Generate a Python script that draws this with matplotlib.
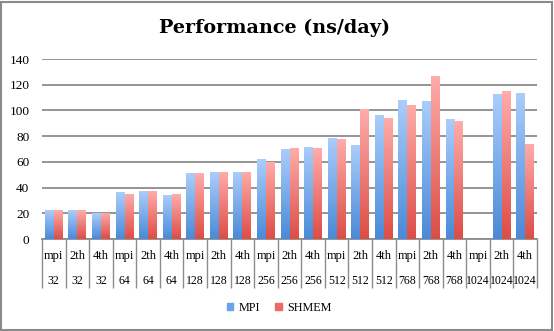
import numpy as np
import matplotlib
matplotlib.use("Agg")
import matplotlib.pyplot as plt
from matplotlib.colors import LinearSegmentedColormap
from matplotlib.patches import Rectangle

# categories (two rows of the x labels)
modes = ["mpi", "2th", "4th"] * 7
sizes = ["32"] * 3 + ["64"] * 3 + ["128"] * 3 + ["256"] * 3 + ["512"] * 3 + ["768"] * 3 + ["1024"] * 3

# ns/day
mpi = [22.3, 22.2, 20.0, 36.3, 37.0, 34.2, 51.3, 51.9, 52.4, 62.0, 69.7, 71.6,
       78.6, 72.9, 96.2, 108.1, 107.6, 93.3, 0.0, 112.5, 113.8]
shmem = [22.3, 22.2, 20.5, 35.3, 37.0, 34.7, 51.3, 52.4, 52.4, 60.0, 70.5, 70.5,
         78.0, 100.9, 94.4, 104.5, 126.8, 91.5, 0.0, 114.9, 74.2]

plt.rcParams['font.family'] = ['Liberation Serif', 'DejaVu Serif']

W, H = 554, 331
fig = plt.figure(figsize=(W / 100, H / 100), dpi=100)
fig.patch.set_facecolor("white")

# outer border like the Excel chart frame
fig.patches.append(Rectangle((1 / W, 1 / H), 551 / W, 328 / H, transform=fig.transFigure,
                             fill=False, edgecolor="#8a8a8a", linewidth=1.5))

ax = fig.add_axes([42 / W, (H - 239) / H, 495 / W, 180 / H])

x = np.arange(len(modes))
bw = 0.378
blue = LinearSegmentedColormap.from_list("b", ["#4a8ad8", "#aacdfb"])
red = LinearSegmentedColormap.from_list("r", ["#dd4d45", "#ffacaa"])
grad = np.linspace(0, 1, 100).reshape(-1, 1)

for vals, off, cmap in [(mpi, -bw / 2, blue), (shmem, bw / 2, red)]:
    bars = ax.bar(x + off, vals, bw, color="none", edgecolor="none", zorder=3)
    for b in bars:
        h = b.get_height()
        if h <= 0:
            continue
        x0 = b.get_x()
        im = ax.imshow(grad, cmap=cmap, origin="lower", aspect="auto",
                       extent=(x0, x0 + b.get_width(), 0, h), zorder=3)
        im.set_clip_path(b)

ax.set_xlim(-0.5, len(modes) - 0.5)
ax.set_ylim(0, 140)
ax.set_yticks(range(0, 141, 20))
ax.yaxis.grid(True, color="#8c8c8c", linewidth=1.3)
ax.set_axisbelow(True)
ax.tick_params(axis="y", length=0, pad=9, labelsize=9.5)
ax.set_xticks([])
for s in ax.spines.values():
    s.set_visible(False)

# category table under the axis
tr = ax.get_xaxis_transform()
ax.plot([-0.5, len(modes) - 0.5], [0, 0], color="#8c8c8c", lw=1.3, transform=tr, clip_on=False)
ax.vlines(np.arange(len(modes) + 1) - 0.5, -0.272, 0, color="#8c8c8c", lw=1.0,
          transform=tr, clip_on=False)
for i in x:
    ax.text(i, -0.095, modes[i], ha="center", va="center", fontsize=9, transform=tr)
    ax.text(i, -0.234, sizes[i], ha="center", va="center", fontsize=8.5, transform=tr)

fig.text(275 / W, 1 - 28 / H, "Performance (ns/day)", ha="center", va="center",
         fontsize=13.8, fontweight="bold", family="DejaVu Serif")

handles = [Rectangle((0, 0), 1, 1, color="#6aa3ea"), Rectangle((0, 0), 1, 1, color="#ee6a66")]
fig.legend(handles, ["MPI", "SHMEM"], loc="center", bbox_to_anchor=(279 / W, 1 - 308 / H),
           ncol=2, frameon=False, fontsize=8.7, handlelength=0.55, handleheight=0.55,
           handletextpad=0.4, columnspacing=1.3)

fig.savefig("out.png", dpi=100)
